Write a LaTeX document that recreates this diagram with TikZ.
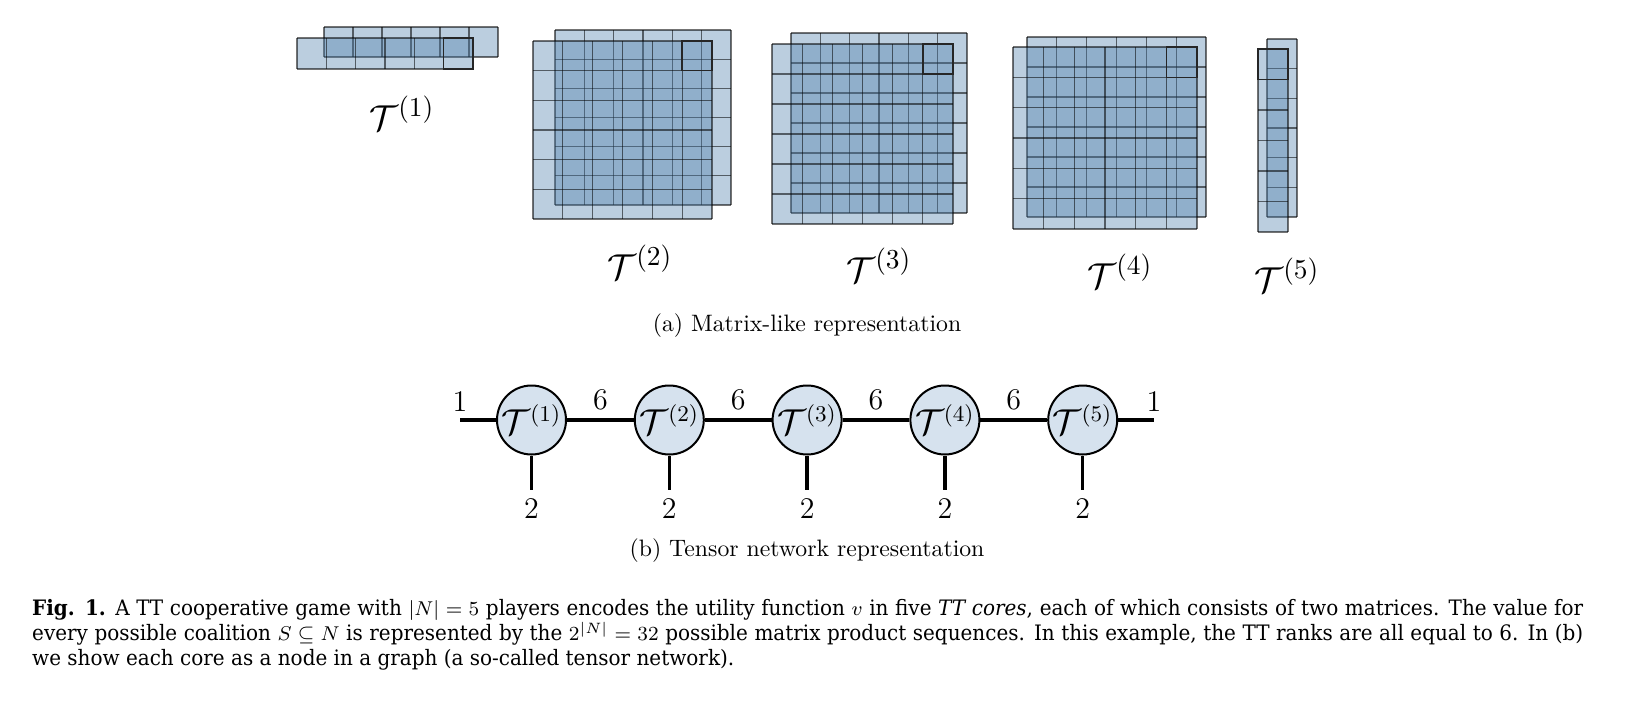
\documentclass[tikz,border=0pt]{standalone}
\usepackage{fontspec}
\usepackage{amsmath}
\newfontfamily\capfont[FakeStretch=0.94]{DejaVu Serif}
\definecolor{cellblue}{RGB}{75,125,170}
\definecolor{nodeblue}{RGB}{214,226,238}
\tikzset{
  cellline/.style={black, draw opacity=0.55, line width=0.45pt},
  hlbox/.style={black!85, line width=0.55pt},
  core/.style={circle, draw, line width=0.8pt, fill=nodeblue, minimum size=27.6pt, inner sep=0pt, font=\fontsize{13.5}{16}\selectfont},
  bond/.style={line width=1.3pt},
  dimlbl/.style={font=\large},
  corelbl/.style={font=\fontsize{15.7}{19}\selectfont, anchor=base},
  subcap/.style={font=\fontsize{9.5}{11}\selectfont, anchor=base}
}
\def\mlayer(#1,#2)(#3,#4)[#5,#6]{%
  \fill[cellblue, fill opacity=0.38] (#1,#2) rectangle (#3,#4);
  \foreach \k in {0,...,#5} \draw[cellline] ({#1+(#3-#1)*\k/#5},#2) -- ({#1+(#3-#1)*\k/#5},#4);
  \foreach \k in {0,...,#6} \draw[cellline] (#1,{#2+(#4-#2)*\k/#6}) -- (#3,{#2+(#4-#2)*\k/#6});
}
\def\hlcell(#1,#2)(#3,#4)[#5,#6]{\draw[hlbox] ({#3-(#3-#1)/#5},#2) rectangle (#3,{#2+(#4-#2)/#6});}

\begin{document}
\begin{tikzpicture}[x=0.4pt, y=-0.4pt]
	\useasboundingbox (0,0) rectangle (1640,706);

	%%%%% matrices %%%%%
	\mlayer(324,27)(498,57)[6,1]
	\mlayer(297,38)(473,69)[6,1]
	\hlcell(297,38)(473,69)[6,1]

	\mlayer(555,30)(731,205)[6,6]
	\mlayer(533,41)(712,219)[6,6]
	\hlcell(533,41)(712,219)[6,6]

	\mlayer(791,33)(967,213)[6,6]
	\mlayer(772,44)(953,224)[6,6]
	\hlcell(772,44)(953,224)[6,6]

	\mlayer(1027,37)(1206,217)[6,6]
	\mlayer(1013,47)(1197,229)[6,6]
	\hlcell(1013,47)(1197,229)[6,6]

	\mlayer(1267,39)(1297,217)[1,6]
	\mlayer(1258,49)(1288,232)[1,6]
	\hlcell(1258,49)(1288,232)[1,6]

	\node[corelbl] (m1) at (402,130) {$\mathcal{T}^{(1)}$};
	\node[corelbl] (m2) at (640,279) {$\mathcal{T}^{(2)}$};
	\node[corelbl] (m3) at (879,282) {$\mathcal{T}^{(3)}$};
	\node[corelbl] (m4) at (1120,288) {$\mathcal{T}^{(4)}$};
	\node[corelbl] (m5) at (1287,292) {$\mathcal{T}^{(5)}$};

	\node[subcap] (capa) at (807,331) {(a) Matrix-like representation};

	%%%%% network %%%%%
	\node[core] (t1) at (531.5,420) {$\mathcal{T}^{(1)}$};
	\node[core] (t2) at (669.3,420) {$\mathcal{T}^{(2)}$};
	\node[core] (t3) at (807.1,420) {$\mathcal{T}^{(3)}$};
	\node[core] (t4) at (944.9,420) {$\mathcal{T}^{(4)}$};
	\node[core] (t5) at (1082.7,420) {$\mathcal{T}^{(5)}$};

	\coordinate (l0) at (460,420);
	\coordinate (r0) at (1154,420);
	\coordinate (b1) at (531.5,490);
	\coordinate (b2) at (669.3,490);
	\coordinate (b3) at (807.1,490);
	\coordinate (b4) at (944.9,490);
	\coordinate (b5) at (1082.7,490);

	\draw[bond] (l0) -- (t1);
	\draw[bond] (t1) -- node[dimlbl, above] (e1) {6} (t2);
	\draw[bond] (t2) -- node[dimlbl, above] (e2) {6} (t3);
	\draw[bond] (t3) -- node[dimlbl, above] (e3) {6} (t4);
	\draw[bond] (t4) -- node[dimlbl, above] (e4) {6} (t5);
	\draw[bond] (t5) -- (r0);

	\draw[bond] (t1) -- (b1);
	\draw[bond] (t2) -- (b2);
	\draw[bond] (t3) -- (b3);
	\draw[bond] (t4) -- (b4);
	\draw[bond] (t5) -- (b5);

	\node[dimlbl, above] (n0) at (l0) {1};
	\node[dimlbl, above] (n6) at (r0) {1};
	\node[dimlbl, below] (d1) at (b1) {2};
	\node[dimlbl, below] (d2) at (b2) {2};
	\node[dimlbl, below] (d3) at (b3) {2};
	\node[dimlbl, below] (d4) at (b4) {2};
	\node[dimlbl, below] (d5) at (b5) {2};

	\node[subcap] (capb) at (807,556) {(b) Tensor network representation};

	%%%%% caption %%%%%
	\node[anchor=base west, text width=620.4pt, align=justify, inner sep=0pt, font=\capfont\fontsize{8.5}{10}\selectfont] (cap) at (31.7,615.7)
	{\textbf{Fig. 1.} A TT cooperative game with $|N|=5$ players encodes the utility function $v$ in five \textit{TT cores}, each of which consists of two matrices. The value for\linebreak every possible coalition $S\subseteq N$ is represented by the $2^{|N|}=32$ possible matrix product sequences. In this example, the TT ranks are all equal to 6. In (b)\linebreak we show each core as a node in a graph (a so-called tensor network).};
\end{tikzpicture}
\end{document}
